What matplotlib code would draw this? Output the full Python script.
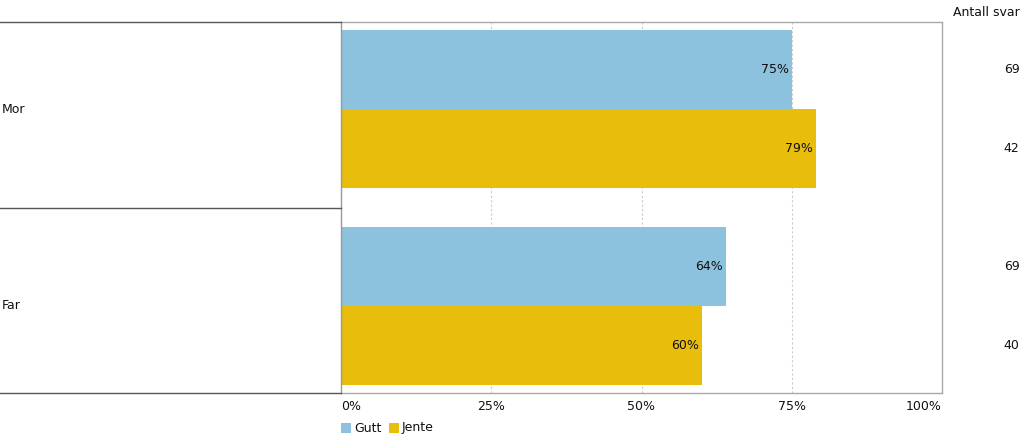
import matplotlib
matplotlib.use("Agg")
import matplotlib.pyplot as plt
from matplotlib.patches import Rectangle

# data
categories = ["Mor", "Far"]
series_names = ["Gutt", "Jente"]
gutt_values = [75, 64]
jente_values = [79, 60]
gutt_counts = [69, 69]
jente_counts = [42, 40]
x_ticks = [0, 25, 50, 75, 100]
x_tick_labels = ["0%", "25%", "50%", "75%", "100%"]

blue = "#8dc2de"
yellow = "#e8bd0b"
font = "DejaVu Sans"
fs = 9
txt = "#111111"

W, H = 1023, 438
fig = plt.figure(figsize=(W / 100, H / 100), dpi=100)

# plot area in pixel coords
left, right, top, bottom = 341, 942, 22, 393
ax = fig.add_axes([left / W, 1 - bottom / H, (right - left) / W, (bottom - top) / H])
ax.set_xlim(0, 100)
ax.set_ylim(2, 0)

bar_h = 0.427
centers = [0.47, 1.53]

for i in range(len(categories)):
    yg = centers[i] - bar_h / 2
    yj = centers[i] + bar_h / 2
    ax.barh(yg, gutt_values[i], height=bar_h, color=blue, linewidth=0, zorder=2)
    ax.barh(yj, jente_values[i], height=bar_h, color=yellow, linewidth=0, zorder=2)
    ax.text(gutt_values[i] - 0.5, yg, str(gutt_values[i]) + "%", ha="right", va="center",
            fontsize=fs, family=font, color=txt, zorder=3)
    ax.text(jente_values[i] - 0.5, yj, str(jente_values[i]) + "%", ha="right", va="center",
            fontsize=fs, family=font, color=txt, zorder=3)
    # counts on the right
    ax.text(1.129, yg, str(gutt_counts[i]), transform=ax.get_yaxis_transform(),
            ha="right", va="center", fontsize=fs, family=font, color=txt)
    ax.text(1.129, yj, str(jente_counts[i]), transform=ax.get_yaxis_transform(),
            ha="right", va="center", fontsize=fs, family=font, color=txt)

for t in x_ticks[1:-1]:
    ax.axvline(t, color="#cccccc", linestyle=(0, (2, 2)), linewidth=0.8, zorder=1)

ax.set_xticks([])
ax.set_yticks([])
for side in ["top", "right", "bottom"]:
    ax.spines[side].set_color("#aaaaaa")
    ax.spines[side].set_linewidth(1)
ax.spines["left"].set_color("#999999")
ax.spines["left"].set_linewidth(1)

# tick labels
for t, lab in zip(x_ticks, x_tick_labels):
    ha = "center"
    if t == x_ticks[0]:
        ha = "left"
    if t == x_ticks[-1]:
        ha = "right"
    ax.text(t, 2.075, lab, ha=ha, va="center", fontsize=fs, family=font, color=txt)

# left category box
lax = fig.add_axes([0, 1 - bottom / H, left / W, (bottom - top) / H])
lax.set_xlim(0, 1)
lax.set_ylim(2, 0)
lax.axis("off")
for yy in [0, 1, 2]:
    lax.axhline(yy, color="#555555", linewidth=1, clip_on=False)
label_y = [0.47, 1.53]
for i, c in enumerate(categories):
    lax.text(0.004, label_y[i], c, ha="left", va="center", fontsize=fs, family=font, color=txt)

fig.text(1020 / W, 1 - 12 / H, "Antall svar", ha="right", va="center",
         fontsize=fs, family=font, color=txt)

# legend
fig.patches.append(Rectangle((341 / W, 1 - 433 / H), 10 / W, 10 / H, transform=fig.transFigure,
                             facecolor=blue, edgecolor="none"))
fig.text(354 / W, 1 - 428 / H, series_names[0], ha="left", va="center", fontsize=fs,
         family=font, color=txt)
fig.patches.append(Rectangle((389 / W, 1 - 433 / H), 10 / W, 10 / H, transform=fig.transFigure,
                             facecolor=yellow, edgecolor="none"))
fig.text(402 / W, 1 - 428 / H, series_names[1], ha="left", va="center", fontsize=fs,
         family=font, color=txt)

fig.savefig("out.png", dpi=100)
